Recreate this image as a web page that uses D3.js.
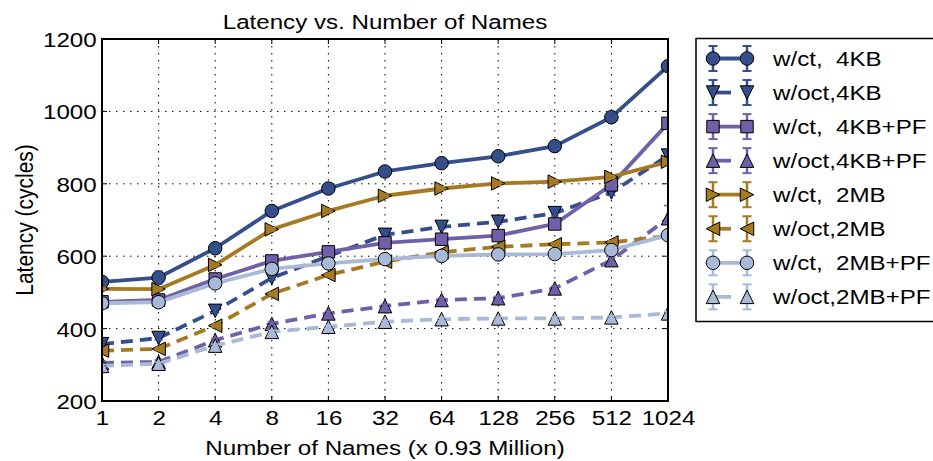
<!DOCTYPE html>
<html>
<head>
<meta charset="utf-8">
<script src="https://cdn.jsdelivr.net/npm/d3@7/dist/d3.min.js"></script>
<style>
  html, body { margin: 0; padding: 0; background: #fff; }
  svg { display: block; font-family: "Liberation Sans", Arial, sans-serif; }
</style>
</head>
<body>
<svg id="chart" width="933" height="461"></svg>
<script>
// ---- data ----
const categories = ["1", "2", "4", "8", "16", "32", "64", "128", "256", "512", "1024"];
const yTicks = [200, 400, 600, 800, 1000, 1200];

const seriesNames = ["w/ct,  4KB", "w/oct,4KB", "w/ct,  4KB+PF", "w/oct,4KB+PF",
                     "w/ct,  2MB", "w/oct,2MB", "w/ct,  2MB+PF", "w/oct,2MB+PF"];

const ct4KB    = [529, 541, 622, 725, 787, 834, 857, 876, 904, 984, 1125];
const oct4KB   = [357, 374, 449, 540, 600, 659, 681, 695, 719, 776, 878];
const ct4KBPF  = [474, 479, 537, 587, 612, 637, 647, 657, 689, 797, 967];
const oct4KBPF = [305, 308, 368, 413, 442, 462, 479, 484, 511, 589, 705];
const ct2MB    = [510, 509, 576, 674, 725, 767, 787, 801, 806, 819, 861];
const oct2MB   = [339, 344, 408, 496, 548, 585, 611, 626, 633, 638, 656];
const ct2MBPF  = [470, 473, 525, 565, 580, 592, 601, 605, 606, 617, 658];
const oct2MBPF = [297, 303, 353, 391, 405, 419, 426, 428, 428, 431, 442];

const err_ct4KB    = [6, 18, 6, 5, 5, 5, 5, 5, 6, 6, 8];
const err_oct4KB   = [5, 5, 5, 5, 5, 5, 6, 6, 8, 8, 14];
const err_ct4KBPF  = [5, 5, 5, 5, 5, 5, 5, 5, 6, 8, 10];
const err_oct4KBPF = [5, 5, 5, 5, 5, 5, 5, 5, 6, 8, 35];
const err_ct2MB    = [5, 5, 5, 5, 5, 5, 5, 5, 5, 5, 8];
const err_oct2MB   = [5, 5, 5, 5, 5, 5, 5, 5, 5, 5, 8];
const err_ct2MBPF  = [5, 5, 5, 5, 5, 5, 5, 5, 5, 8, 8];
const err_oct2MBPF = [4, 4, 4, 4, 4, 4, 4, 4, 4, 4, 6];

const seriesValues = [ct4KB, oct4KB, ct4KBPF, oct4KBPF, ct2MB, oct2MB, ct2MBPF, oct2MBPF];
const seriesErrors = [err_ct4KB, err_oct4KB, err_ct4KBPF, err_oct4KBPF, err_ct2MB, err_oct2MB, err_ct2MBPF, err_oct2MBPF];

// ---- styles ----
const BLUE = "#354f8a", PURPLE = "#7060a8", GOLD = "#a57a22", LIGHT = "#a9b9d8";
const DASH = "12,7";
const styles = [
  { color: BLUE,   dash: null, marker: "circle" },
  { color: BLUE,   dash: DASH, marker: "tridown" },
  { color: PURPLE, dash: null, marker: "square" },
  { color: PURPLE, dash: DASH, marker: "triup" },
  { color: GOLD,   dash: null, marker: "triright" },
  { color: GOLD,   dash: DASH, marker: "trileft" },
  { color: LIGHT,  dash: null, marker: "circle" },
  { color: LIGHT,  dash: DASH, marker: "triup" }
];
const FS = 21, SX = 1.15;

const W = 933, H = 461;
const margin = { left: 102, top: 39 };
const pw = 668 - 102, ph = 401 - 39;

const svg = d3.select("#chart");
svg.append("rect").attr("width", W).attr("height", H).attr("fill", "#fff");

const x = d3.scalePoint().domain(categories).range([0, pw]);
const y = d3.scaleLinear().domain([200, 1200]).range([ph, 0]);

const g = svg.append("g").attr("transform", `translate(${margin.left},${margin.top})`);

svg.append("defs").append("clipPath").attr("id", "plotclip")
  .append("rect").attr("x", 0).attr("y", 0).attr("width", pw).attr("height", ph);

// grid (dotted)
const grid = g.append("g");
categories.forEach(c => {
  grid.append("line").attr("x1", x(c)).attr("x2", x(c)).attr("y1", 0).attr("y2", ph)
    .attr("stroke", "#000").attr("stroke-width", 1).attr("stroke-dasharray", "1.5,5.5");
});
yTicks.forEach(t => {
  grid.append("line").attr("x1", 0).attr("x2", pw).attr("y1", y(t)).attr("y2", y(t))
    .attr("stroke", "#000").attr("stroke-width", 1).attr("stroke-dasharray", "1.5,5.5");
});

// marker path generator
const MS = 13.5;
function markerPath(type, s) {
  const h = s / 2;
  switch (type) {
    case "circle": return d3.symbol().type(d3.symbolCircle).size(Math.PI * h * h)();
    case "square": { const a = s * 0.46; return `M${-a},${-a}L${a},${-a}L${a},${a}L${-a},${a}Z`; }
    case "triup": return `M0,${-h}L${h},${h}L${-h},${h}Z`;
    case "tridown": return `M0,${h}L${h},${-h}L${-h},${-h}Z`;
    case "triright": return `M${h},0L${-h},${-h}L${-h},${h}Z`;
    case "trileft": return `M${-h},0L${h},${-h}L${h},${h}Z`;
  }
}

const plot = g.append("g").attr("clip-path", "url(#plotclip)");
const line = d3.line().x((d, i) => x(categories[i])).y(d => y(d));

seriesValues.forEach((vals, si) => {
  const st = styles[si];
  const errs = seriesErrors[si];
  const sg = plot.append("g");
  sg.append("path").datum(vals).attr("d", line)
    .attr("fill", "none").attr("stroke", st.color).attr("stroke-width", 3.8)
    .attr("stroke-dasharray", st.dash).attr("stroke-linejoin", "round");
  sg.selectAll("path.mk").data(vals).join("path").attr("class", "mk")
    .attr("d", markerPath(st.marker, MS))
    .attr("transform", (d, i) => `translate(${x(categories[i])},${y(d)})`)
    .attr("fill", st.color).attr("stroke", "#000").attr("stroke-width", 1);
  const eb = sg.append("g").attr("stroke", st.color);
  vals.forEach((v, i) => {
    const cx = x(categories[i]), e = errs[i];
    eb.append("line").attr("x1", cx).attr("x2", cx).attr("y1", y(v - e)).attr("y2", y(v + e)).attr("stroke-width", 2);
    [v - e, v + e].forEach(t => {
      eb.append("line").attr("x1", cx - 4).attr("x2", cx + 4).attr("y1", y(t)).attr("y2", y(t)).attr("stroke-width", 1.5);
    });
  });
});

// ticks (inward, all four sides)
const tk = g.append("g").attr("stroke", "#000").attr("stroke-width", 1);
categories.forEach(c => {
  tk.append("line").attr("x1", x(c)).attr("x2", x(c)).attr("y1", ph).attr("y2", ph - 5);
  tk.append("line").attr("x1", x(c)).attr("x2", x(c)).attr("y1", 0).attr("y2", 5);
});
yTicks.forEach(t => {
  tk.append("line").attr("x1", 0).attr("x2", 5).attr("y1", y(t)).attr("y2", y(t));
  tk.append("line").attr("x1", pw).attr("x2", pw - 5).attr("y1", y(t)).attr("y2", y(t));
});

// frame
g.append("rect").attr("x", 0).attr("y", 0).attr("width", pw).attr("height", ph)
  .attr("fill", "none").attr("stroke", "#000").attr("stroke-width", 2);

// tick labels using axes
const xAxis = g.append("g").attr("transform", `translate(0,${ph})`)
  .call(d3.axisBottom(x).tickSize(0).tickPadding(9));
xAxis.select(".domain").remove();
xAxis.selectAll("text").attr("font-size", FS).attr("fill", "#000")
  .attr("font-family", "Liberation Sans, Arial, sans-serif")
  .attr("transform", `scale(${SX},1)`);

const yAxis = g.append("g").call(d3.axisLeft(y).tickValues(yTicks).tickSize(0).tickPadding(5).tickFormat(d3.format("d")));
yAxis.select(".domain").remove();
yAxis.selectAll("text").attr("font-size", FS).attr("fill", "#000")
  .attr("font-family", "Liberation Sans, Arial, sans-serif")
  .attr("x", -5.3 / SX).attr("dy", "0.36em")
  .attr("transform", `scale(${SX},1)`);

// titles
function stretchedText(px, py, txt, anchor) {
  return svg.append("g").attr("transform", `translate(${px},${py}) scale(${SX},1)`)
    .append("text").attr("x", 0).attr("y", 0).attr("text-anchor", anchor || "middle")
    .attr("font-size", FS).attr("xml:space", "preserve").style("white-space", "pre").text(txt);
}
stretchedText(margin.left + pw / 2, 28.5, "Latency vs. Number of Names");
stretchedText(margin.left + pw / 2, 455, "Number of Names (x 0.93 Million)");
svg.append("g").attr("transform", `translate(33,${margin.top + ph / 2}) scale(${SX},1) rotate(-90)`)
  .append("text").attr("text-anchor", "middle").attr("font-size", FS).text("Latency (cycles)");

// legend
const lg = svg.append("g");
lg.append("rect").attr("x", 696).attr("y", 38.5).attr("width", 300).attr("height", 283)
  .attr("fill", "#fff").attr("stroke", "#000").attr("stroke-width", 1.5);
seriesNames.forEach((name, i) => {
  const st = styles[i];
  const ry = 58.5 + i * 34.05;
  const x1 = 713, x2 = 747;
  const row = lg.append("g");
  row.append("line").attr("x1", x1).attr("x2", x2).attr("y1", ry).attr("y2", ry)
    .attr("stroke", st.color).attr("stroke-width", 3.8).attr("stroke-dasharray", st.dash ? "18,40" : null);
  [x1, x2].forEach(cx => {
    row.append("line").attr("x1", cx).attr("x2", cx).attr("y1", ry - 12.5).attr("y2", ry + 12.5)
      .attr("stroke", st.color).attr("stroke-width", 2.5);
    [ry - 12.5, ry + 12.5].forEach(t => row.append("line").attr("x1", cx - 4.5).attr("x2", cx + 4.5)
      .attr("y1", t).attr("y2", t).attr("stroke", st.color).attr("stroke-width", 2));
    row.append("path").attr("d", markerPath(st.marker, MS))
      .attr("transform", `translate(${cx},${ry})`)
      .attr("fill", st.color).attr("stroke", "#000").attr("stroke-width", 1);
  });
  lg.append("g").attr("transform", `translate(773,${ry + 7.3}) scale(${SX},1)`)
    .append("text").attr("font-size", FS)
    .attr("xml:space", "preserve").style("white-space", "pre").text(name);
});
</script>
</body>
</html>
